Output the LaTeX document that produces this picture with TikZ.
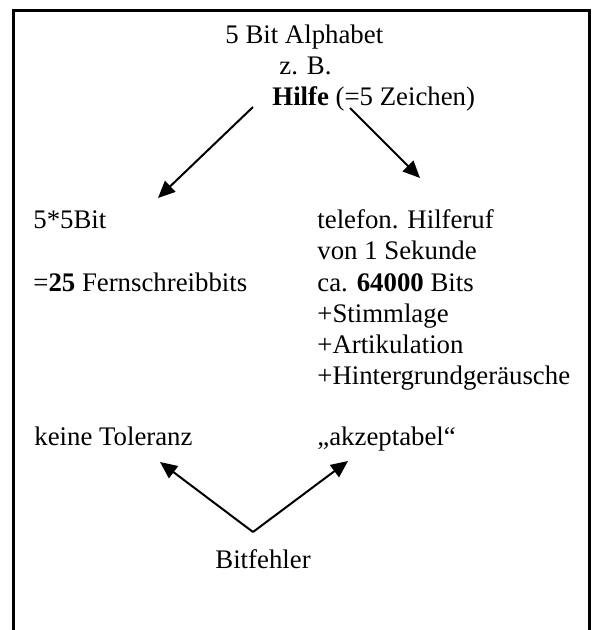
\documentclass[tikz,border=0pt]{standalone}
\usepackage{fontspec}
\setmainfont{Liberation Serif}
\usetikzlibrary{arrows.meta}

\tikzset{
  txt/.style={anchor=base west, inner sep=0pt, font=\fontsize{13.4}{15.5}\selectfont},
  pfeil/.style={line width=1pt, -{Triangle[length=8.5pt,width=7.5pt]}},
}

\begin{document}
\begin{tikzpicture}[x=0.5pt,y=-0.5pt]
  \useasboundingbox (0,0) rectangle (597,630);
  % Rahmen, unten offen
  \draw[line width=1.5pt] (13,630) -- (13,11) -- (589,11) -- (589,630);

  % oben
  \node[txt] (alphabet) at (225,44) {5 Bit Alphabet};
  \node[txt] (zb) at (279,75) {z. B.};
  \node[txt] (hilfe) at (272,106) {\textbf{Hilfe} (=5 Zeichen)};

  % links
  \node[txt] (fuenf) at (33,229) {5*5Bit};
  \node[txt] (fernschreib) at (33,291) {=\textbf{25} Fernschreibbits};

  % rechts
  \node[txt] (telefon) at (317,229) {telefon. Hilferuf};
  \node[txt] (sekunde) at (317,260) {von 1 Sekunde};
  \node[txt] (bits) at (317,291) {ca. \textbf{64000} Bits};
  \node[txt] (stimme) at (317,322) {+Stimmlage};
  \node[txt] (artik) at (317,353) {+Artikulation};
  \node[txt] (hinter) at (317,384) {+Hintergrundgeräusche};

  % unten
  \node[txt] (toleranz) at (34,445) {keine Toleranz};
  \node[txt] (akzeptabel) at (317,445) {„akzeptabel“};
  \node[txt] (bitfehler) at (215,568) {Bitfehler};

  % Pfeile
  \coordinate (hl) at (253,107);
  \coordinate (hr) at (350,108);
  \coordinate (zl) at (158,198);
  \coordinate (zr) at (420,178);
  \coordinate (spitze) at (253,532);
  \coordinate (tl) at (160,462);
  \coordinate (ar) at (348,461);

  \draw[pfeil] (hl) -- (zl);
  \draw[pfeil] (hr) -- (zr);
  \draw[pfeil] (spitze) -- (tl);
  \draw[pfeil] (spitze) -- (ar);
\end{tikzpicture}
\end{document}
